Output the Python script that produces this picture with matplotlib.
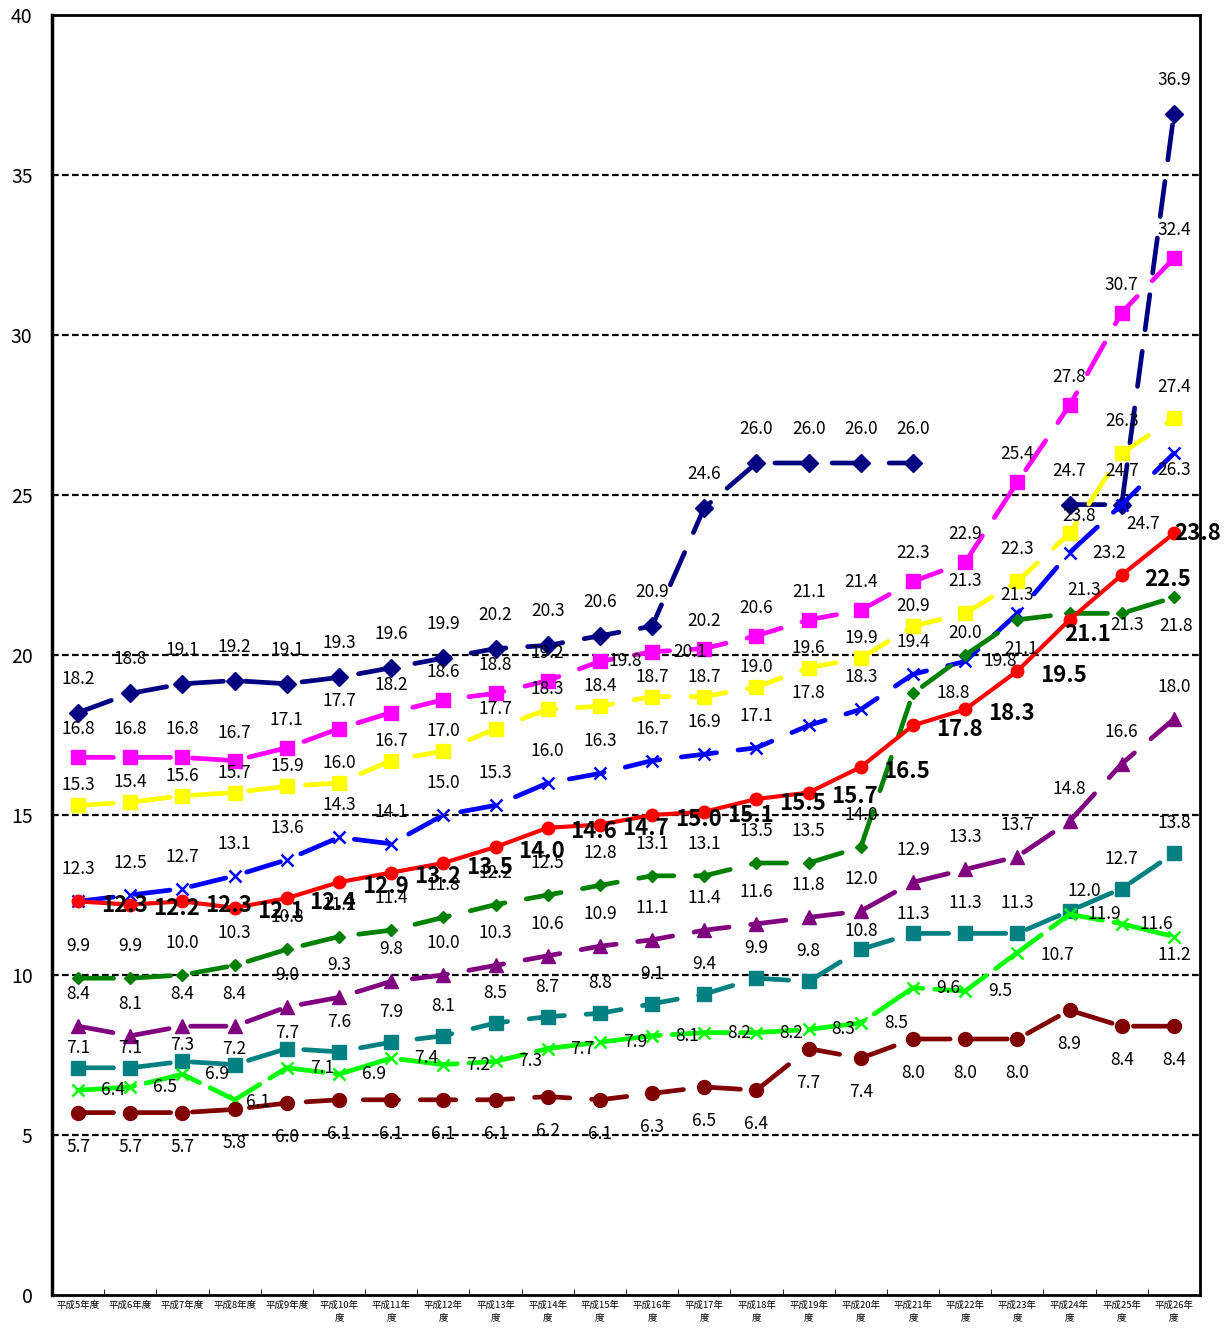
import numpy as np
import matplotlib.pyplot as plt

plt.rcParams['font.family'] = ['Noto Sans CJK JP', 'DejaVu Sans']

years = ['平成5年度', '平成6年度', '平成7年度', '平成8年度', '平成9年度',
         '平成10年\n度', '平成11年\n度', '平成12年\n度', '平成13年\n度', '平成14年\n度',
         '平成15年\n度', '平成16年\n度', '平成17年\n度', '平成18年\n度', '平成19年\n度',
         '平成20年\n度', '平成21年\n度', '平成22年\n度', '平成23年\n度', '平成24年\n度',
         '平成25年\n度', '平成26年\n度']

navy = [18.2, 18.8, 19.1, 19.2, 19.1, 19.3, 19.6, 19.9, 20.2, 20.3, 20.6, 20.9,
        24.6, 26.0, 26.0, 26.0, 26.0, np.nan, np.nan, 24.7, 24.7, 36.9]
magenta = [16.8, 16.8, 16.8, 16.7, 17.1, 17.7, 18.2, 18.6, 18.8, 19.2, 19.8, 20.1,
           20.2, 20.6, 21.1, 21.4, 22.3, 22.9, 25.4, 27.8, 30.7, 32.4]
yellow = [15.3, 15.4, 15.6, 15.7, 15.9, 16.0, 16.7, 17.0, 17.7, 18.3, 18.4, 18.7,
          18.7, 19.0, 19.6, 19.9, 20.9, 21.3, 22.3, 23.8, 26.3, 27.4]
blue = [12.3, 12.5, 12.7, 13.1, 13.6, 14.3, 14.1, 15.0, 15.3, 16.0, 16.3, 16.7,
        16.9, 17.1, 17.8, 18.3, 19.4, 19.8, 21.3, 23.2, 24.7, 26.3]
red = [12.3, 12.2, 12.3, 12.1, 12.4, 12.9, 13.2, 13.5, 14.0, 14.6, 14.7, 15.0,
       15.1, 15.5, 15.7, 16.5, 17.8, 18.3, 19.5, 21.1, 22.5, 23.8]
green = [9.9, 9.9, 10.0, 10.3, 10.8, 11.2, 11.4, 11.8, 12.2, 12.5, 12.8, 13.1,
         13.1, 13.5, 13.5, 14.0, 18.8, 20.0, 21.1, 21.3, 21.3, 21.8]
purple = [8.4, 8.1, 8.4, 8.4, 9.0, 9.3, 9.8, 10.0, 10.3, 10.6, 10.9, 11.1,
          11.4, 11.6, 11.8, 12.0, 12.9, 13.3, 13.7, 14.8, 16.6, 18.0]
teal = [7.1, 7.1, 7.3, 7.2, 7.7, 7.6, 7.9, 8.1, 8.5, 8.7, 8.8, 9.1,
        9.4, 9.9, 9.8, 10.8, 11.3, 11.3, 11.3, 12.0, 12.7, 13.8]
lime = [6.4, 6.5, 6.9, 6.1, 7.1, 6.9, 7.4, 7.2, 7.3, 7.7, 7.9, 8.1,
        8.2, 8.2, 8.3, 8.5, 9.6, 9.5, 10.7, 11.9, 11.6, 11.2]
maroon = [5.7, 5.7, 5.7, 5.8, 6.0, 6.1, 6.1, 6.1, 6.1, 6.2, 6.1, 6.3,
          6.5, 6.4, 7.7, 7.4, 8.0, 8.0, 8.0, 8.9, 8.4, 8.4]

LONG = (7.5, 4.6)
# (values, color, marker, markersize, dashes, label offset px, per-point offsets)
series = [
    (navy, '#000080', 'D', 9, LONG, (0, 34), {}),
    (magenta, '#FF00FF', 's', 10, LONG, (0, 28), {10: (25, 0), 11: (38, 0)}),
    (yellow, '#FFFF00', 's', 10, LONG, (0, 20),
     {17: (0, 32), 18: (0, 32), 19: (10, 17), 20: (0, 32), 21: (0, 31)}),
    (blue, '#0000FF', 'x', 9, LONG, (0, 32),
     {17: (35, 0), 18: (0, 18), 19: (40, 0), 20: (21, -19), 21: (0, -17)}),
    (green, '#008000', 'D', 6.5, LONG, (0, 32),
     {16: (40, 0), 17: (0, 22), 18: (4, -29), 19: (15, 23), 20: (5, -12), 21: (2, -29)}),
    (purple, '#800080', '^', 10, LONG, (0, 32), {}),
    (teal, '#008080', 's', 10, LONG, (0, 30),
     {0: (0, 20), 1: (0, 20), 2: (0, 16), 3: (0, 16), 4: (0, 16),
      15: (0, 18), 16: (0, 19), 19: (15, 20)}),
    (lime, '#00FF00', 'x', 9, (12, 2.5), (35, 0), {3: (23, -2), 18: (40, -2), 21: (0, -18)}),
    (maroon, '#800000', 'o', 10, LONG, (0, -34), {}),
    (red, '#FF0000', 'o', 9, None, (46, -4), {19: (18, -15), 21: (24, 0)}),
]

fig = plt.figure(figsize=(12.27, 13.29), dpi=100)
ax = fig.add_axes([52 / 1227, 34 / 1329, 1148 / 1227, 1280 / 1329])

x = np.arange(len(years))
px = 0.72  # pixel -> point

for i, (vals, col, mk, ms, dash, off, over) in enumerate(series):
    is_red = dash is None
    line, = ax.plot(x, vals, color=col, lw=3.0 if is_red else 3.4,
                    marker=mk, ms=ms, mew=1.8 if mk == 'x' else 1,
                    solid_capstyle='round', zorder=3 + i)
    if dash is not None:
        line.set_dashes(dash)
        line.set_dash_capstyle('round')
    for j, v in enumerate(vals):
        if np.isnan(v):
            continue
        dx, dy = over.get(j, off)
        if is_red:
            ax.annotate(f'{v:.1f}', (j, v), xytext=(dx * px, dy * px),
                        textcoords='offset points', ha='center', va='center',
                        fontsize=16, fontweight='bold', zorder=20)
        else:
            ax.annotate(f'{v:.1f}', (j, v), xytext=(dx * px, dy * px),
                        textcoords='offset points', ha='center', va='center',
                        fontsize=12.5, zorder=20)

ax.set_xlim(-0.5, len(years) - 0.5)
ax.set_ylim(0, 40)
ax.set_yticks(range(0, 41, 5))
ax.set_xticks(x)
ax.set_xticklabels(years, fontsize=6.8, linespacing=1.5)
ax.set_xticks(np.arange(-0.5, len(years), 1), minor=True)
ax.tick_params(axis='x', which='major', length=0, pad=4)
ax.tick_params(axis='x', which='minor', length=4, direction='in')
ax.tick_params(axis='y', length=0, pad=14, labelsize=14)

for y in range(5, 40, 5):
    ax.axhline(y, color='black', lw=1.6, dashes=(3, 1.5), zorder=1)

for s in ax.spines.values():
    s.set_linewidth(2)
ax.spines['left'].set_linewidth(2.5)

fig.savefig('out.png', dpi=100)
